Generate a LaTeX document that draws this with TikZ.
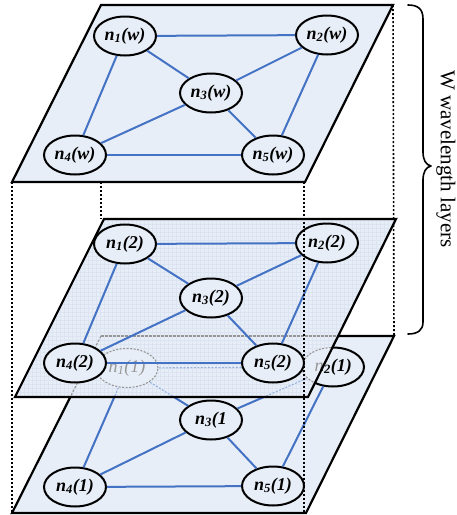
\documentclass[tikz,border=0pt]{standalone}
\usepackage{fontspec}
\setmainfont{Liberation Serif}
\usetikzlibrary{shapes.geometric}

\definecolor{layerfill}{RGB}{232,238,247}
\definecolor{gridline}{RGB}{220,228,241}
\definecolor{linkblue}{RGB}{68,114,196}
\definecolor{ghostgray}{RGB}{150,150,150}
\definecolor{ghostblue}{RGB}{150,178,225}

\newcommand\nlab[2]{n\textsubscript{#1}(#2)}

\tikzset{
  vnode/.style={ellipse, draw=black, line width=2pt, fill=layerfill,
    minimum width=62pt, minimum height=39pt, inner sep=0pt,
    font=\bfseries\itshape\fontsize{18}{18}\selectfont},
  ghostnode/.style={ellipse, draw=ghostgray, line width=1.1pt,
    dash pattern=on 2pt off 1.5pt,
    minimum width=62pt, minimum height=39pt, inner sep=0pt,
    text=ghostgray, font=\itshape\fontsize{18}{18}\selectfont},
  link/.style={draw=linkblue, line width=2pt},
  ghostlink/.style={draw=ghostblue, line width=1.1pt, dash pattern=on 2pt off 1.5pt},
  layer/.style={draw=black, line width=2.2pt, line join=miter},
  ghostedge/.style={draw=ghostgray, line width=1.1pt, dash pattern=on 2.5pt off 1.5pt},
  guide/.style={draw=black, line width=1.6pt, dash pattern=on 2pt off 2pt},
  bracestyle/.style={draw=black, line width=1.6pt, line cap=round, line join=round},
}

\begin{document}
\begin{tikzpicture}[x=1pt, y=-1pt]
\useasboundingbox (0,0) rectangle (457,515);

% corners of the three wavelength planes
\coordinate (T-tl) at (101,5);   \coordinate (T-tr) at (393,5);
\coordinate (T-br) at (305,182); \coordinate (T-bl) at (12,182);
\coordinate (M-tl) at (104,219); \coordinate (M-tr) at (396,219);
\coordinate (M-br) at (308,397); \coordinate (M-bl) at (15,397);
\coordinate (B-tl) at (101,336); \coordinate (B-tr) at (394,336);
\coordinate (B-br) at (306,513); \coordinate (B-bl) at (12,513);
\coordinate (T-tl-below) at (101,182);
\coordinate (T-tl-stop) at (101,219);
\coordinate (T-br-drop) at (304,182);
\coordinate (B-br-drop) at (304,513);

% vertical projection guides behind the planes
\draw[guide] (T-bl) -- (B-bl);
\draw[guide] (T-tl-below) -- (T-tl-stop);
\draw[guide] (T-tr) -- (B-tr);

% ---- top plane (wavelength w)
\path[layer, fill=layerfill] (T-tl) -- (T-tr) -- (T-br) -- (T-bl) -- cycle;
\node[vnode] (t1) at (125,36)  {\nlab{1}{w}};
\node[vnode] (t2) at (327,35)  {\nlab{2}{w}};
\node[vnode] (t3) at (211,93)  {\nlab{3}{w}};
\node[vnode] (t4) at (75,155)  {\nlab{4}{w}};
\node[vnode] (t5) at (273,155) {\nlab{5}{w}};
\foreach \a/\b in {1/2,1/3,1/4,2/3,2/5,3/4,3/5,4/5}
  \draw[link] (t\a) -- (t\b);

% ---- bottom plane (wavelength 1)
\path[layer, fill=layerfill] (B-tl) -- (B-tr) -- (B-br) -- (B-bl) -- cycle;
\node[vnode] (b1) at (127,368) {\nlab{1}{1}};
\node[vnode] (b2) at (333,367) {\nlab{2}{1}};
\node[vnode] (b3) at (211,420) {n\textsubscript{3}(1};
\node[vnode] (b4) at (75,487)  {\nlab{4}{1}};
\node[vnode] (b5) at (273,486) {\nlab{5}{1}};
\foreach \a/\b in {1/2,1/3,1/4,2/3,2/5,3/4,3/5,4/5}
  \draw[link] (b\a) -- (b\b);

% ---- middle plane (wavelength 2), textured and see-through
\fill[layerfill] (M-tl) -- (M-tr) -- (M-br) -- (M-bl) -- cycle;
\begin{scope}
  \clip (M-tl) -- (M-tr) -- (M-br) -- (M-bl) -- cycle;
  \draw[gridline, line width=0.4pt, step=4pt] (0,215) grid (400,400);
  % parts of the lower plane seen through the middle one
  \draw[ghostedge] (B-tl) -- (B-tr);
  \draw[ghostedge] (B-tl) -- (B-bl);
  \foreach \a/\b in {1/2,1/3,1/4,2/3,2/5}
    \draw[ghostlink] (b\a) -- (b\b);
  \node[ghostnode, fill=layerfill] (g1) at (b1) {\nlab{1}{1}};
  \node[ghostnode, fill=layerfill] (g2) at (b2) {\nlab{2}{1}};
\end{scope}
\draw[layer] (M-tl) -- (M-tr) -- (M-br) -- (M-bl) -- cycle;
\node[vnode] (m1) at (125,244) {\nlab{1}{2}};
\node[vnode] (m2) at (327,243) {\nlab{2}{2}};
\node[vnode] (m3) at (211,298) {\nlab{3}{2}};
\node[vnode] (m4) at (75,363)  {\nlab{4}{2}};
\node[vnode] (m5) at (273,363) {\nlab{5}{2}};
\foreach \a/\b in {1/2,1/3,1/4,2/3,2/5,3/4,3/5,4/5}
  \draw[link] (m\a) -- (m\b);

% front guide crossing all planes
\draw[guide] (T-br-drop) -- (B-br-drop);

% brace grouping the W planes
\draw[bracestyle] (408,5) .. controls (418,5) and (423,9) .. (423,19)
  -- (423,152) .. controls (423,160) and (426,165) .. (431,166)
  .. controls (426,167) and (423,172) .. (423,180)
  -- (423,322) .. controls (423,330) and (418,334) .. (408,334);
\node[rotate=-90, font=\fontsize{21}{21}\selectfont, inner sep=0pt]
  (caption) at (446,159) {W wavelength layers};
\end{tikzpicture}
\end{document}
